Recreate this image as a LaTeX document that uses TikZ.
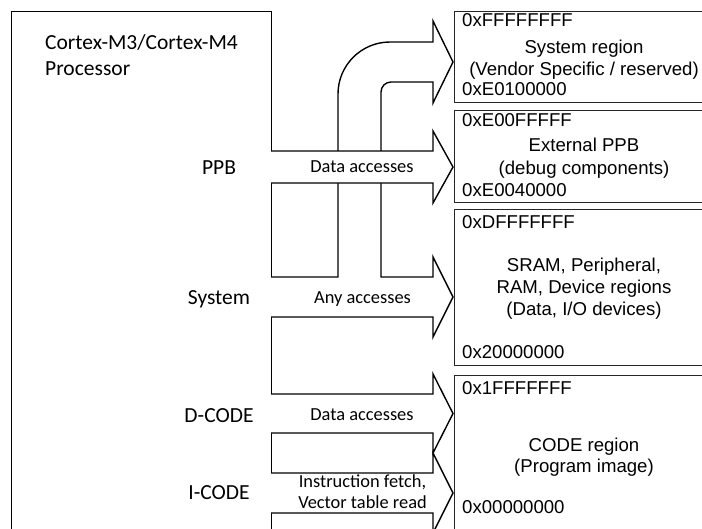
\documentclass[tikz,border=0pt]{standalone}
\usepackage{fontspec}
\newfontfamily\calfont{Carlito}
\newfontfamily\arifont{Liberation Sans}
\tikzset{
  procbox/.style={draw=black, line width=1.3pt, inner sep=0pt, anchor=north west},
  regbox/.style={draw=black!85, line width=1.3pt, inner sep=0pt, anchor=north west, minimum width=262pt},
  blk/.style={draw=black, line width=1.4pt, fill=white, line join=miter},
  lbl/.style={font=\calfont\fontsize{21.5}{26}\selectfont, inner sep=0pt, anchor=base},
  albl/.style={font=\calfont\fontsize{18.4}{22}\selectfont, inner sep=0pt, anchor=base},
  rtxt/.style={font=\arifont\fontsize{18.6}{21.5}\selectfont, inner sep=0pt, anchor=base},
  addr/.style={rtxt, anchor=base west},
}
\begin{document}
\begin{tikzpicture}[x=1pt,y=-1pt]
\useasboundingbox (0,0) rectangle (702,528);
\clip (0,0) rectangle (702,528);
% processor
\node[procbox, minimum width=260pt, minimum height=540pt] (proc) at (11,11) {};
\node[lbl, anchor=base west] (t1) at (45,49) {Cortex-M3/Cortex-M4};
\node[lbl, anchor=base west] (t2) at (45,75) {Processor};
% memory regions
\node[regbox, minimum height=91pt] (r1) at (454,11) {};
\node[regbox, minimum height=92pt] (r2) at (454,110) {};
\node[regbox, minimum height=156pt] (r3) at (454,209) {};
\node[regbox, minimum height=180pt] (r4) at (454,375) {};
% region texts
\node[addr] (a1) at (462,26.5) {0xFFFFFFFF};
\node[rtxt] (s1a) at (584,53) {System region};
\node[rtxt] (s1b) at (584,75) {(Vendor Specific / reserved)};
\node[addr] (a2) at (462,95) {0xE0100000};
\node[addr] (a3) at (462,126.5) {0xE00FFFFF};
\node[rtxt] (s2a) at (584,151.5) {External PPB};
\node[rtxt] (s2b) at (584,174.5) {(debug components)};
\node[addr] (a4) at (462,196.5) {0xE0040000};
\node[addr] (a5) at (462,228.5) {0xDFFFFFFF};
\node[rtxt] (s3a) at (584,271.5) {SRAM, Peripheral,};
\node[rtxt] (s3b) at (584,293.5) {RAM, Device regions};
\node[rtxt] (s3c) at (584,315) {(Data, I/O devices)};
\node[addr] (a6) at (462,358.5) {0x20000000};
\node[addr] (a7) at (462,394.5) {0x1FFFFFFF};
\node[rtxt] (s4a) at (584,451.5) {CODE region};
\node[rtxt] (s4b) at (584,472) {(Program image)};
\node[addr] (a8) at (462,513.5) {0x00000000};
% system bus arrow with branch to system region
\draw[blk] (271,277) -- (338,277) -- (338,94)
  .. controls (338,65.3) and (361.3,42) .. (390,42) -- (433,42) -- (433,21)
  -- (453,62) -- (433,103) -- (433,82) -- (391,82)
  .. controls (385.5,82) and (381,86.5) .. (381,92) -- (381,277)
  -- (433,277) -- (433,257) -- (453,297) -- (433,337) -- (433,317) -- (271,317);
% PPB arrow
\draw[blk] (271,151) -- (433,151) -- (433,131) -- (453,167) -- (433,203) -- (433,183) -- (271,183);
% D-CODE arrow
\draw[blk] (271,394) -- (433,394) -- (433,374) -- (453,413.5) -- (433,453) -- (433,433) -- (271,433);
% I-CODE arrow
\draw[blk] (271,473) -- (433,473) -- (433,453) -- (453,493) -- (433,533) -- (433,513) -- (271,513);
% arrow labels
\node[albl] (l1) at (362,172.5) {Data accesses};
\node[albl] (l2) at (362.5,303) {Any accesses};
\node[albl] (l3) at (362,420) {Data accesses};
\node[albl] (l4) at (362.5,487) {Instruction fetch,};
\node[albl] (l5) at (362.5,508) {Vector table read};
% bus labels
\node[lbl] (b1) at (219,174) {PPB};
\node[lbl] (b2) at (219,304) {System};
\node[lbl] (b3) at (219,422) {D-CODE};
\node[lbl] (b4) at (219,499) {I-CODE};
\end{tikzpicture}
\end{document}
